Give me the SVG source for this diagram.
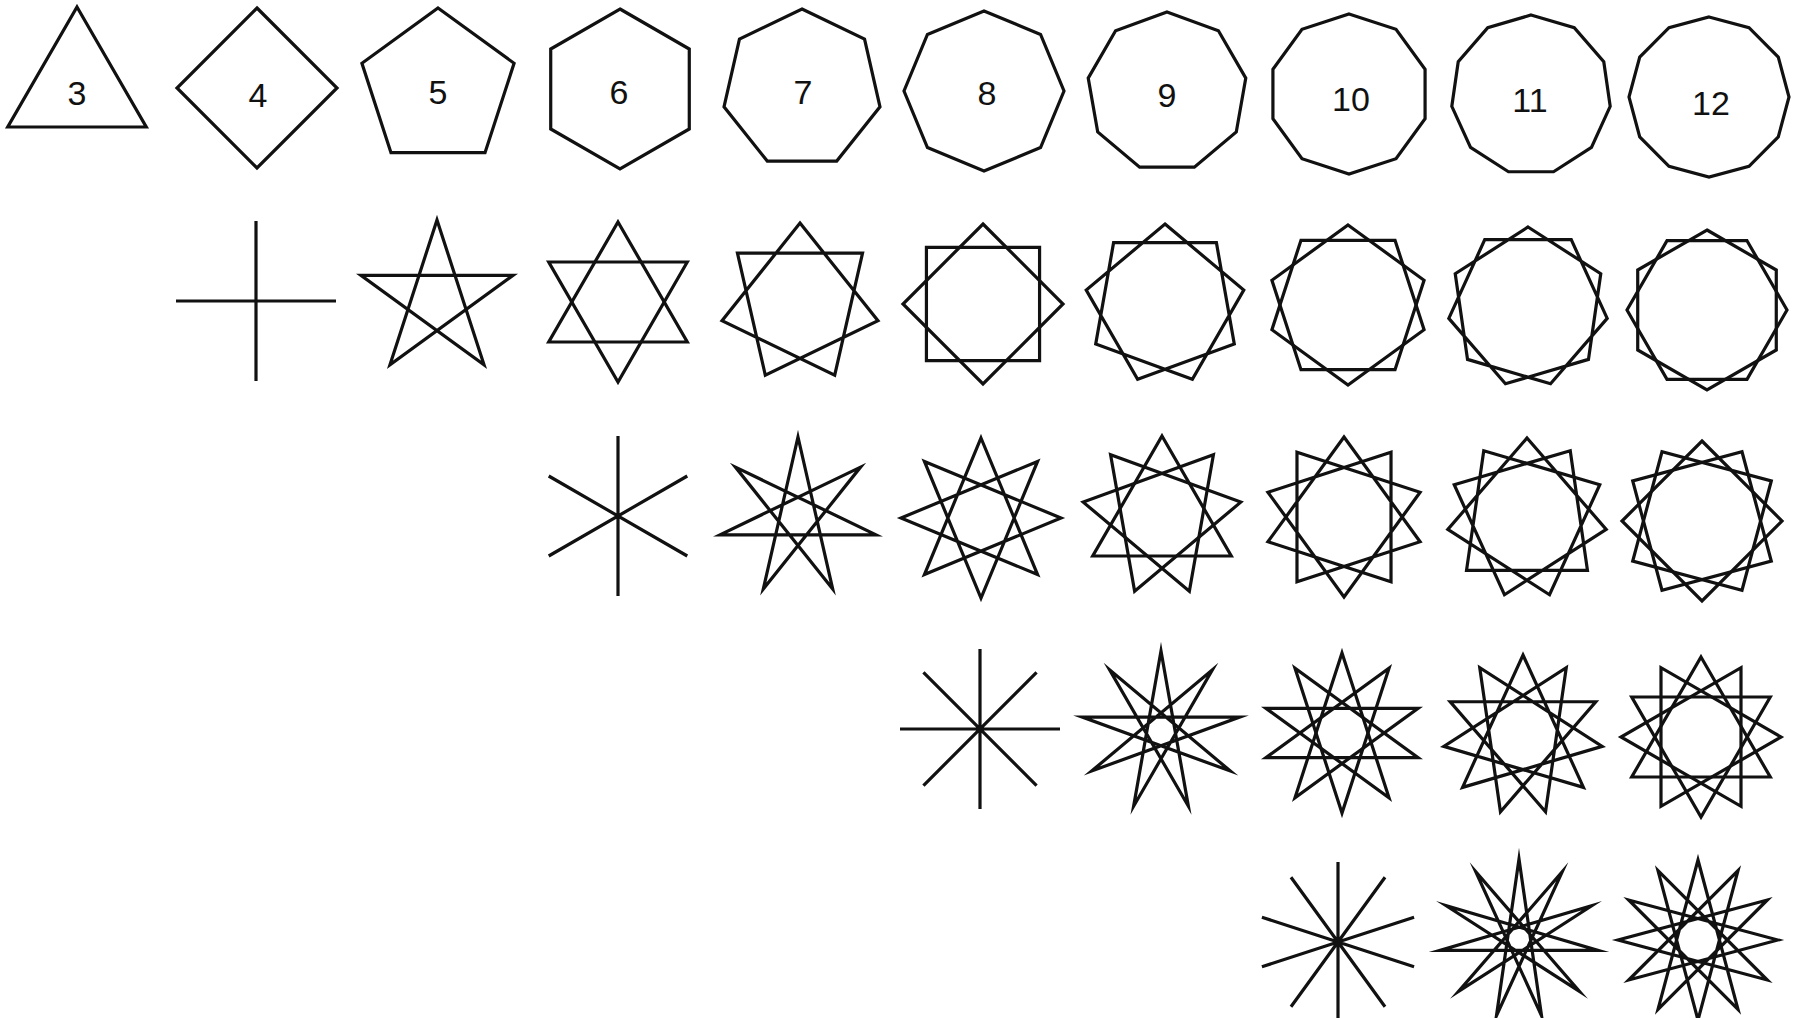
<svg xmlns="http://www.w3.org/2000/svg" width="1802" height="1018" viewBox="0 0 1802 1018">
<style>
.s{fill:none;stroke:#111;stroke-width:3.2;stroke-linejoin:miter;stroke-miterlimit:12;stroke-linecap:butt}
.t{font-family:"Liberation Sans",Arial,sans-serif;font-size:34px;fill:#111;text-anchor:middle}
</style>
<rect width="1802" height="1018" fill="#fff"/>
<g id="row1">
<g id="n3" transform="translate(77,87)"><polygon class="s" points="0,-80 69.28,40 -69.28,40"/><text class="t" x="0" y="18">3</text></g>
<g id="n4" transform="translate(257,88)"><polygon class="s" points="0,-80 80,0 0,80 -80,0"/><text class="t" x="1" y="19">4</text></g>
<g id="n5" transform="translate(438,88)"><polygon class="s" points="0,-80 76.08,-24.72 47.02,64.72 -47.02,64.72 -76.08,-24.72"/><text class="t" x="0" y="16">5</text></g>
<g id="n6" transform="translate(620,89)"><polygon class="s" points="0,-80 69.28,-40 69.28,40 0,80 -69.28,40 -69.28,-40"/><text class="t" x="-1" y="15">6</text></g>
<g id="n7" transform="translate(802,89)"><polygon class="s" points="0,-80 62.55,-49.88 77.99,17.8 34.71,72.08 -34.71,72.08 -77.99,17.8 -62.55,-49.88"/><text class="t" x="1" y="15">7</text></g>
<g id="n8" transform="translate(984,91)"><polygon class="s" points="0,-80 56.57,-56.57 80,0 56.57,56.57 0,80 -56.57,56.57 -80,0 -56.57,-56.57"/><text class="t" x="3" y="14">8</text></g>
<g id="n9" transform="translate(1167,92)"><polygon class="s" points="0,-80 51.42,-61.28 78.78,-13.89 69.28,40 27.36,75.18 -27.36,75.18 -69.28,40 -78.78,-13.89 -51.42,-61.28"/><text class="t" x="0" y="15">9</text></g>
<g id="n10" transform="translate(1349,94)"><polygon class="s" points="0,-80 47.02,-64.72 76.08,-24.72 76.08,24.72 47.02,64.72 0,80 -47.02,64.72 -76.08,24.72 -76.08,-24.72 -47.02,-64.72"/><text class="t" x="2" y="17">10</text></g>
<g id="n11" transform="translate(1531,95)"><polygon class="s" points="0,-80 43.25,-67.3 72.77,-33.23 79.19,11.38 60.46,52.39 22.54,76.76 -22.54,76.76 -60.46,52.39 -79.19,11.38 -72.77,-33.23 -43.25,-67.3"/><text class="t" x="-1" y="17">11</text></g>
<g id="n12" transform="translate(1709,97)"><polygon class="s" points="0,-80 40,-69.28 69.28,-40 80,0 69.28,40 40,69.28 0,80 -40,69.28 -69.28,40 -80,0 -69.28,-40 -40,-69.28"/><text class="t" x="2" y="18">12</text></g>
</g>
<g id="row2">
<g id="s4-2" transform="translate(256,301)"><path class="s" d="M0,-80V80M-80,0H80"/></g>
<g id="s5-2" transform="translate(437,300)"><polygon class="s" points="0,-80 47.02,64.72 -76.08,-24.72 76.08,-24.72 -47.02,64.72"/></g>
<g id="s6-2" transform="translate(618,302)"><polygon class="s" points="0,-80 69.28,40 -69.28,40"/><polygon class="s" points="69.28,-40 0,80 -69.28,-40"/></g>
<g id="s7-2" transform="translate(800,303)"><polygon class="s" points="0,-80 77.99,17.8 -34.71,72.08 -62.55,-49.88 62.55,-49.88 34.71,72.08 -77.99,17.8"/></g>
<g id="s8-2" transform="translate(983,304)"><polygon class="s" points="0,-80 80,0 0,80 -80,0"/><polygon class="s" points="56.57,-56.57 56.57,56.57 -56.57,56.57 -56.57,-56.57"/></g>
<g id="s9-2" transform="translate(1165,304)"><polygon class="s" points="0,-80 78.78,-13.89 27.36,75.18 -69.28,40 -51.42,-61.28 51.42,-61.28 69.28,40 -27.36,75.18 -78.78,-13.89"/></g>
<g id="s10-2" transform="translate(1348,305)"><polygon class="s" points="0,-80 76.08,-24.72 47.02,64.72 -47.02,64.72 -76.08,-24.72"/><polygon class="s" points="47.02,-64.72 76.08,24.72 0,80 -76.08,24.72 -47.02,-64.72"/></g>
<g id="s11-2" transform="translate(1528,307)"><polygon class="s" points="0,-80 72.77,-33.23 60.46,52.39 -22.54,76.76 -79.19,11.38 -43.25,-67.3 43.25,-67.3 79.19,11.38 22.54,76.76 -60.46,52.39 -72.77,-33.23"/></g>
<g id="s12-2" transform="translate(1707,310)"><polygon class="s" points="0,-80 69.28,-40 69.28,40 0,80 -69.28,40 -69.28,-40"/><polygon class="s" points="40,-69.28 80,0 40,69.28 -40,69.28 -80,0 -40,-69.28"/></g>
</g>
<g id="row3">
<g id="s6-3" transform="translate(618,516)"><path class="s" d="M0,-80V80M69.28,-40L-69.28,40M69.28,40L-69.28,-40"/></g>
<g id="s7-3" transform="translate(798,517)"><polygon class="s" points="0,-80 34.71,72.08 -62.55,-49.88 77.99,17.8 -77.99,17.8 62.55,-49.88 -34.71,72.08"/></g>
<g id="s8-3" transform="translate(981,518)"><polygon class="s" points="0,-80 56.57,56.57 -80,0 56.57,-56.57 0,80 -56.57,-56.57 80,0 -56.57,56.57"/></g>
<g id="s9-3" transform="translate(1162,516)"><polygon class="s" points="0,-80 69.28,40 -69.28,40"/><polygon class="s" points="51.42,-61.28 27.36,75.18 -78.78,-13.89"/><polygon class="s" points="78.78,-13.89 -27.36,75.18 -51.42,-61.28"/></g>
<g id="s10-3" transform="translate(1344,517)"><polygon class="s" points="0,-80 76.08,24.72 -47.02,64.72 -47.02,-64.72 76.08,-24.72 0,80 -76.08,-24.72 47.02,-64.72 47.02,64.72 -76.08,24.72"/></g>
<g id="s11-3" transform="translate(1527,518)"><polygon class="s" points="0,-80 79.19,11.38 -22.54,76.76 -72.77,-33.23 43.25,-67.3 60.46,52.39 -60.46,52.39 -43.25,-67.3 72.77,-33.23 22.54,76.76 -79.19,11.38"/></g>
<g id="s12-3" transform="translate(1702,521)"><polygon class="s" points="0,-80 80,0 0,80 -80,0"/><polygon class="s" points="40,-69.28 69.28,40 -40,69.28 -69.28,-40"/><polygon class="s" points="69.28,-40 40,69.28 -69.28,40 -40,-69.28"/></g>
</g>
<g id="row4">
<g id="s8-4" transform="translate(980,729)"><path class="s" d="M0,-80V80M-80,0H80M56.57,-56.57L-56.57,56.57M56.57,56.57L-56.57,-56.57"/></g>
<g id="s9-4" transform="translate(1161,731)"><polygon class="s" points="0,-80 27.36,75.18 -51.42,-61.28 69.28,40 -78.78,-13.89 78.78,-13.89 -69.28,40 51.42,-61.28 -27.36,75.18"/></g>
<g id="s10-4" transform="translate(1342,733)"><polygon class="s" points="0,-80 47.02,64.72 -76.08,-24.72 76.08,-24.72 -47.02,64.72"/><polygon class="s" points="47.02,-64.72 0,80 -47.02,-64.72 76.08,24.72 -76.08,24.72"/></g>
<g id="s11-4" transform="translate(1523,735)"><polygon class="s" points="0,-80 60.46,52.39 -79.19,11.38 43.25,-67.3 22.54,76.76 -72.77,-33.23 72.77,-33.23 -22.54,76.76 -43.25,-67.3 79.19,11.38 -60.46,52.39"/></g>
<g id="s12-4" transform="translate(1701,737)"><polygon class="s" points="0,-80 69.28,40 -69.28,40"/><polygon class="s" points="40,-69.28 40,69.28 -80,0"/><polygon class="s" points="69.28,-40 0,80 -69.28,-40"/><polygon class="s" points="80,0 -40,69.28 -40,-69.28"/></g>
</g>
<g id="row5">
<g id="s10-5" transform="translate(1338,942)"><path class="s" d="M0,-80V80M47.02,-64.72L-47.02,64.72M76.08,-24.72L-76.08,24.72M76.08,24.72L-76.08,-24.72M47.02,64.72L-47.02,-64.72"/></g>
<g id="s11-5" transform="translate(1519,939)"><polygon class="s" points="0,-80 22.54,76.76 -43.25,-67.3 60.46,52.39 -72.77,-33.23 79.19,11.38 -79.19,11.38 72.77,-33.23 -60.46,52.39 43.25,-67.3 -22.54,76.76"/></g>
<g id="s12-5" transform="translate(1698,940)"><polygon class="s" points="0,-80 40,69.28 -69.28,-40 80,0 -69.28,40 40,-69.28 0,80 -40,-69.28 69.28,40 -80,0 69.28,-40 -40,69.28"/></g>
</g>
</svg>
